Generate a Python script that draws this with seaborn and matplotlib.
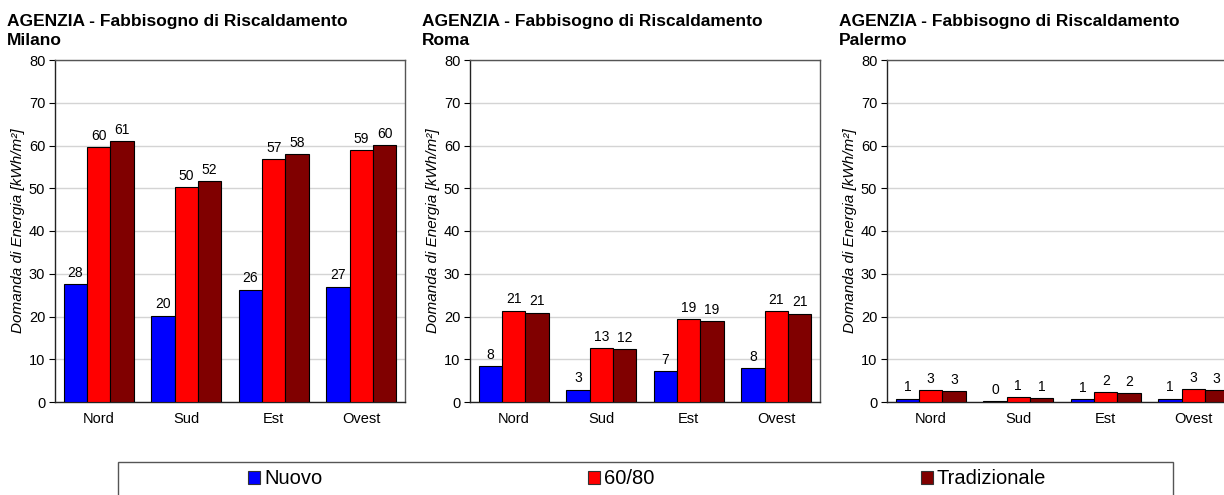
import numpy as np
import pandas as pd
import matplotlib
matplotlib.use("Agg")
import matplotlib.pyplot as plt
import seaborn as sns
from matplotlib.patches import Patch, Rectangle

# =========================================================
# DATA
# =========================================================

esposizioni = ["Nord", "Sud", "Est", "Ovest"]
tipologie = ["Nuovo", "60/80", "Tradizionale"]
colori = ["#0000FF", "#FF0000", "#800000"]

milano_nuovo = [27.6, 20.2, 26.3, 27.0]
milano_6080 = [59.7, 50.3, 56.8, 58.9]
milano_trad = [61.0, 51.6, 58.0, 60.1]

roma_nuovo = [8.4, 2.9, 7.3, 8.0]
roma_6080 = [21.4, 12.7, 19.3, 21.2]
roma_trad = [20.9, 12.3, 19.0, 20.7]

palermo_nuovo = [0.8, 0.2, 0.6, 0.8]
palermo_6080 = [2.7, 1.2, 2.3, 3.0]
palermo_trad = [2.6, 1.0, 2.1, 2.7]

citta = {
    "Milano": [milano_nuovo, milano_6080, milano_trad],
    "Roma": [roma_nuovo, roma_6080, roma_trad],
    "Palermo": [palermo_nuovo, palermo_6080, palermo_trad],
}

# =========================================================
# STYLE
# =========================================================

sns.set_style("white")
plt.rcParams["font.family"] = ["Liberation Sans", "DejaVu Sans"]
plt.rcParams["text.color"] = "black"
plt.rcParams["axes.labelcolor"] = "black"
plt.rcParams["xtick.color"] = "black"
plt.rcParams["ytick.color"] = "black"

W, H = 1224, 495
fig = plt.figure(figsize=(W / 100, H / 100), dpi=100)

# axes positions in pixels: left, top, width, height
lefts = [55, 470, 887]
ax_top, ax_bottom, ax_w = 60, 402, 350

for (nome, serie), left in zip(citta.items(), lefts):
    ax = fig.add_axes([left / W, 1 - ax_bottom / H, ax_w / W, (ax_bottom - ax_top) / H])

    df = pd.DataFrame({
        "Esposizione": esposizioni * 3,
        "Tipo": np.repeat(tipologie, 4),
        "Valore": np.concatenate(serie),
    })

    sns.barplot(
        data=df, x="Esposizione", y="Valore", hue="Tipo",
        order=esposizioni, hue_order=tipologie, palette=colori,
        saturation=1, width=0.8, edgecolor="black", linewidth=0.8,
        legend=False, ax=ax, zorder=3,
    )

    for cont in ax.containers:
        ax.bar_label(cont, fmt="%.0f", padding=3, fontsize=10, color="black")

    ax.set_ylim(0, 80)
    ax.set_xlim(-0.5, 3.5)
    ax.set_yticks(range(0, 81, 10))
    ax.yaxis.grid(True, color="#d4d4d4", linewidth=1.0, zorder=0)
    ax.set_axisbelow(True)

    ax.set_xticks(range(4))
    ax.set_xticklabels(esposizioni)
    ax.set_xticks(np.arange(-0.5, 4.0, 1.0), minor=True)
    ax.tick_params(axis="x", which="major", length=0, pad=7, labelsize=10.5)
    ax.tick_params(axis="x", which="minor", length=4, direction="out", width=0.8)
    ax.tick_params(axis="y", length=4, direction="out", width=0.8, labelsize=10.5,
                   left=True, pad=3)

    ax.set_xlabel("")
    ax.set_ylabel("Domanda di Energia [kWh/m²]", fontsize=11, style="italic", labelpad=3)

    for s in ["left", "bottom"]:
        ax.spines[s].set_color("#222222")
        ax.spines[s].set_linewidth(1.0)
    for s in ["top", "right"]:
        ax.spines[s].set_color("#555555")
        ax.spines[s].set_linewidth(1.0)

    ax.text(-48 / ax_w, 1.035, "AGENZIA - Fabbisogno di Riscaldamento\n" + nome,
            transform=ax.transAxes, ha="left", va="bottom",
            fontsize=12.5, fontweight="bold", linespacing=1.3)

# =========================================================
# LEGEND
# =========================================================

box = Rectangle((118 / W, -0.05), (1173 - 118) / W, 0.05 + 1 - 462 / H,
                transform=fig.transFigure, facecolor="white",
                edgecolor="#555555", linewidth=1.0)
fig.patches.append(box)

handles = [Patch(facecolor=c, edgecolor="#333333", linewidth=0.8) for c in colori]
fig.legend(handles, tipologie, loc="center", ncol=3,
           bbox_to_anchor=(647 / W, 1 - 479 / H), frameon=False,
           fontsize=14.5, handlelength=0.6, handleheight=0.6,
           handletextpad=0.2, columnspacing=13.2)

fig.savefig("out.png", dpi=100)
